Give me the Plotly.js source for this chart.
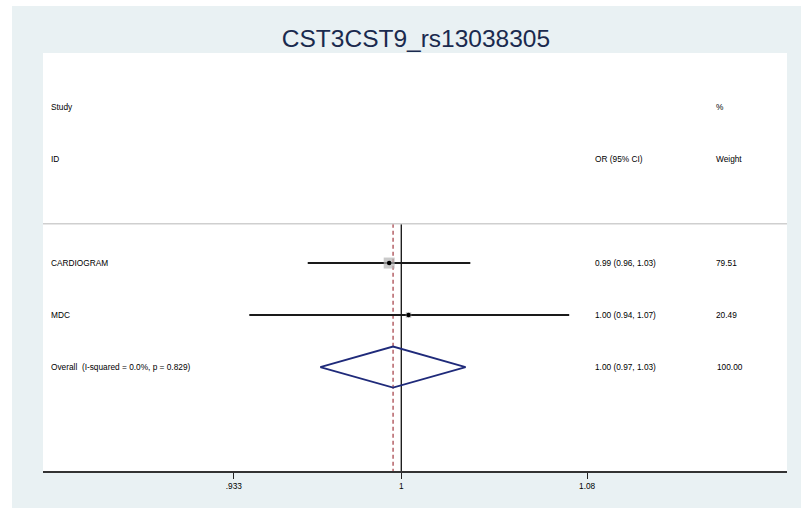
<!DOCTYPE html>
<html>
<head>
<meta charset="utf-8">
<script src="https://cdn.plot.ly/plotly-3.0.1.min.js"></script>
<style>
  html, body { margin: 0; padding: 0; background: #ffffff; width: 801px; height: 508px; overflow: hidden; }
  #chart { position: absolute; left: 12px; top: 6px; width: 789px; height: 502px; }
</style>
</head>
<body>
<div id="chart"></div>
<script>
// ---- data ----
const studies   = ["CARDIOGRAM", "MDC"];
const studyOR   = [0.995, 1.003];
const studyLo   = [0.962, 0.939];
const studyHi   = [1.029, 1.072];
const studyW    = [79.51, 20.49];
const studyCI   = ["0.99 (0.96, 1.03)", "1.00 (0.94, 1.07)"];
const studyWTxt = ["79.51", "20.49"];

const overallLabel = "Overall  (I-squared = 0.0%, p = 0.829)";
const overallOR  = 0.9966;
const overallLo  = 0.967;
const overallHi  = 1.027;
const overallCI  = "1.00 (0.97, 1.03)";
const overallW   = "100.00";

const tickVals   = [0.933, 1, 1.08];
const tickLabels = [".933", "1", "1.08"];

const headers = { study: "Study", id: "ID", or: "OR (95% CI)", pct: "%", weight: "Weight" };

// ---- layout constants ----
const FONT = "Liberation Sans, Arial, Helvetica, sans-serif";
const TXT = { family: FONT, size: 8.3, color: "#000000" };
const rowY = studies.map((s, i) => i + 1);
const overallY = studies.length + 1;
const dividerY = 0.245;
const yTop = -3.04, yBottom = 5.0;
const diamondHalf = 0.394;
const xColStudy = 0.0081, xColOR = 0.7392, xColW = 0.9025;

const traces = [];

// null line at 1
traces.push({
  x: [1, 1], y: [dividerY, yBottom], mode: "lines", type: "scatter",
  line: { color: "#111111", width: 1.3 }, hoverinfo: "skip"
});
// overall effect dashed line
traces.push({
  x: [overallOR, overallOR], y: [dividerY, yBottom], mode: "lines", type: "scatter",
  line: { color: "#a9484f", width: 1.3, dash: "4px,3px" }, hoverinfo: "skip"
});

// CI lines
studies.forEach((s, i) => {
  traces.push({
    x: [studyLo[i], studyHi[i]], y: [rowY[i], rowY[i]], mode: "lines", type: "scatter",
    line: { color: "#1a1a1a", width: 2 }, hoverinfo: "skip"
  });
});

// weight boxes
const maxW = Math.max(...studyW);
traces.push({
  x: studyOR, y: rowY, mode: "markers", type: "scatter",
  marker: { symbol: "square", color: "#b3b3b3", size: studyW.map(w => 11 * Math.sqrt(w / maxW)), line: { width: 0 } },
  hoverinfo: "skip"
});
// point estimates
traces.push({
  x: studyOR, y: rowY, mode: "markers", type: "scatter",
  marker: { symbol: "circle", color: "#000000", size: 4.5 },
  hoverinfo: "skip"
});

// overall diamond
traces.push({
  x: [overallLo, overallOR, overallHi, overallOR, overallLo],
  y: [overallY, overallY - diamondHalf, overallY, overallY + diamondHalf, overallY],
  mode: "lines", type: "scatter",
  line: { color: "#1f2a7a", width: 1.8 }, hoverinfo: "skip"
});

// annotations (text columns)
const ann = [];
function addText(x, y, text) {
  ann.push({ xref: "paper", yref: "y", x: x, y: y, text: text, showarrow: false,
             xanchor: "left", yanchor: "middle", font: TXT });
}
addText(xColStudy, -2, headers.study);
addText(xColStudy, -1, headers.id);
addText(xColOR, -1, headers.or);
addText(xColW, -2, headers.pct);
addText(xColW, -1, headers.weight);
studies.forEach((s, i) => {
  addText(xColStudy, rowY[i], s);
  addText(xColOR, rowY[i], studyCI[i]);
  addText(xColW, rowY[i], studyWTxt[i]);
});
addText(xColStudy, overallY, overallLabel);
addText(xColOR, overallY, overallCI);
addText(xColW + 0.001, overallY, overallW);

const layout = {
  width: 789, height: 502,
  margin: { l: 31, r: 14, t: 47, b: 37, pad: 0 },
  paper_bgcolor: "#e9f1f3",
  plot_bgcolor: "#ffffff",
  showlegend: false,
  title: {
    text: "CST3CST9_rs13038305",
    font: { family: FONT, size: 24.5, color: "#1a2a4e" },
    x: 0.512, xanchor: "center", xref: "container",
    y: 0.936, yanchor: "middle", yref: "container"
  },
  xaxis: {
    type: "log",
    range: [-0.06443, 0.06936],
    tickvals: tickVals, ticktext: tickLabels,
    ticks: "outside", ticklen: 6, tickwidth: 1.2, tickcolor: "#222222",
    tickfont: { family: FONT, size: 8.3, color: "#000000" },
    showline: true, linecolor: "#333333", linewidth: 1.6,
    showgrid: false, zeroline: false, fixedrange: true
  },
  yaxis: {
    range: [yBottom, yTop],
    visible: false, showgrid: false, zeroline: false, fixedrange: true
  },
  shapes: [{
    type: "line", xref: "paper", yref: "y", x0: 0, x1: 1, y0: dividerY, y1: dividerY,
    line: { color: "#cfcfcf", width: 1.5 }
  }],
  annotations: ann
};

Plotly.newPlot("chart", traces, layout, { displayModeBar: false, staticPlot: true });
</script>
</body>
</html>
